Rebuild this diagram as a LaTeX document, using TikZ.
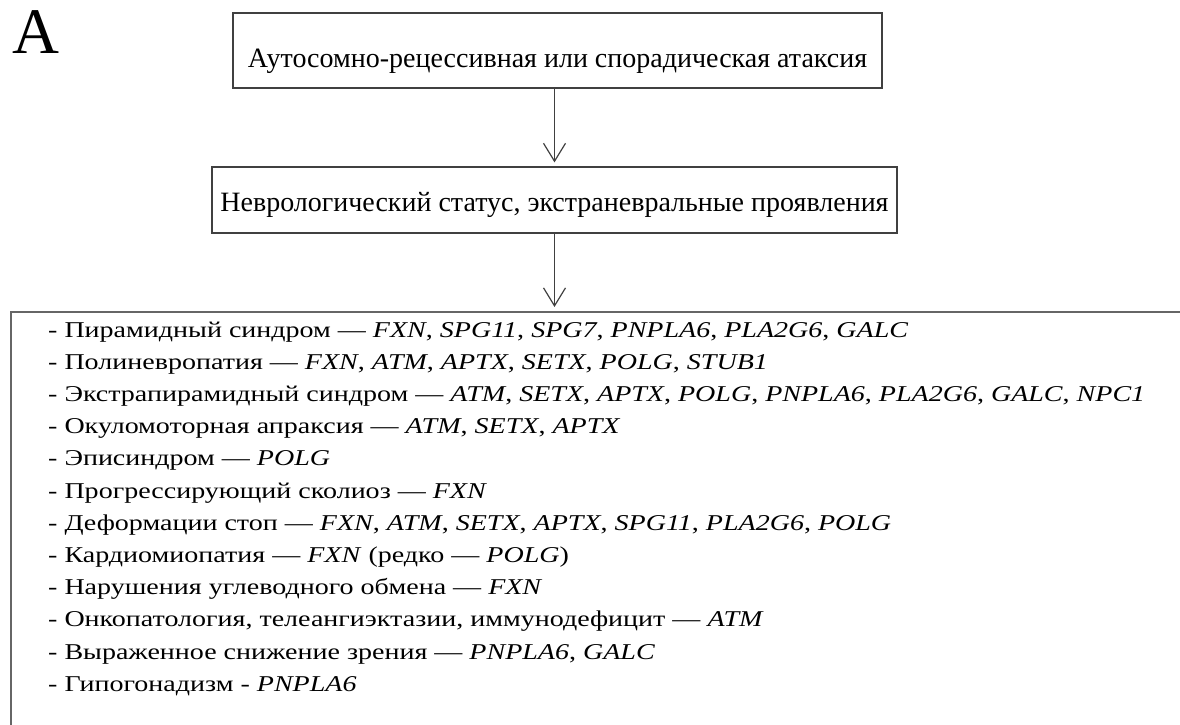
\documentclass[tikz,border=0pt]{standalone}
\usepackage{fontspec}
\setmainfont{Liberation Serif}
\newfontfamily\listfont[FakeStretch=1.24]{Liberation Serif}
\usetikzlibrary{arrows.meta}

\tikzset{
  flowbox/.style={draw=black!75, line width=1.2pt, inner sep=0pt,
    font=\fontsize{28}{32}\selectfont},
  flowarrow/.style={draw=black!75, line width=1.2pt,
    -{Straight Barb[length=18pt, width=22pt]}, shorten >=4pt},
  item/.style={anchor=base west, inner sep=0pt,
    font=\listfont\fontsize{22.6}{27}\selectfont}
}

\begin{document}
\begin{tikzpicture}[x=1pt, y=-1pt]
        \useasboundingbox (0,0) rectangle (1180,724);
        \clip (0,0) rectangle (1180,724);
        \node[anchor=base west, inner sep=0pt, font=\fontsize{65}{70}\selectfont] (panel) at (12,53) {A};
        \node[flowbox, minimum width=649pt, minimum height=75pt, text height=33pt, text depth=0pt] (ataxia) at (557.5,50.5) {Аутосомно-рецессивная или спорадическая атаксия};
        \node[flowbox, minimum width=685pt, minimum height=66pt, text height=22pt, text depth=0pt] (status) at (554.5,200) {Неврологический статус, экстраневральные проявления};
        % the last box runs past the page
        \node[draw=black!60, line width=1.8pt, anchor=north west, minimum width=1240pt, minimum height=490pt] (genes) at (10,311) {};
        \draw[flowarrow] (ataxia.south -| status.north) -- (status.north);
        \draw[flowarrow] (status.south) -- (status.south |- genes.north);
        \foreach \txt [count=\i] in {
          {- Пирамидный синдром — \textit{FXN}, \textit{SPG11}, \textit{SPG7}, \textit{PNPLA6}, \textit{PLA2G6}, \textit{GALC}},
          {- Полиневропатия — \textit{FXN}, \textit{ATM}, \textit{APTX}, \textit{SETX}, \textit{POLG}, \textit{STUB1}},
          {- Экстрапирамидный синдром — \textit{ATM}, \textit{SETX}, \textit{APTX}, \textit{POLG}, \textit{PNPLA6}, \textit{PLA2G6}, \textit{GALC}, \textit{NPC1}},
          {- Окуломоторная апраксия — \textit{ATM}, \textit{SETX}, \textit{APTX}},
          {- Эписиндром — \textit{POLG}},
          {- Прогрессирующий сколиоз — \textit{FXN}},
          {- Деформации стоп — \textit{FXN}, \textit{ATM}, \textit{SETX}, \textit{APTX}, \textit{SPG11}, \textit{PLA2G6}, \textit{POLG}},
          {- Кардиомиопатия — \textit{FXN} (редко — \textit{POLG})},
          {- Нарушения углеводного обмена — \textit{FXN}},
          {- Онкопатология, телеангиэктазии, иммунодефицит — \textit{ATM}},
          {- Выраженное снижение зрения — \textit{PNPLA6}, \textit{GALC}},
          {- Гипогонадизм - \textit{PNPLA6}}}
          \node[item] (sign\i) at (48,{337+32.2*(\i-1)}) {\txt};
\end{tikzpicture}
\end{document}
